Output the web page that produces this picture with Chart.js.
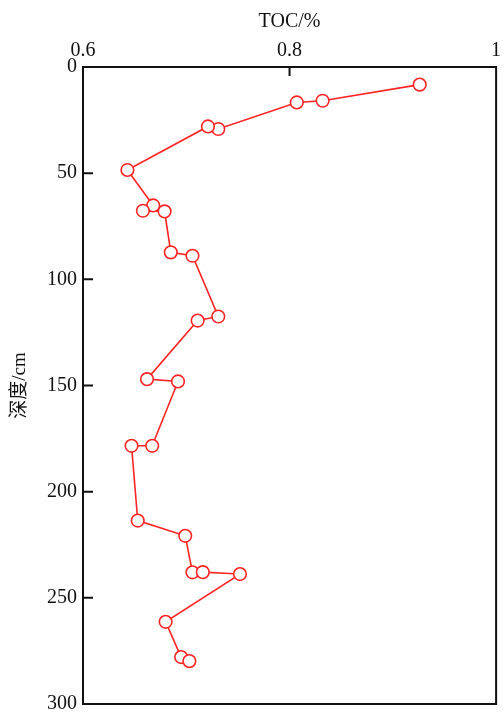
<!DOCTYPE html>
<html>
<head>
<meta charset="utf-8">
<script src="https://cdn.jsdelivr.net/npm/chart.js@4"></script>
<style>
  html, body { margin: 0; padding: 0; background: #fff; }
  #wrap { width: 504px; height: 714px; }
</style>
</head>
<body>
<div id="wrap"><canvas id="chart" width="504" height="714"></canvas></div>
<script>
// TOC (%) frente a profundidad (cm), en el orden en que se une la línea
const tocValues = [0.926, 0.832, 0.807, 0.731, 0.721, 0.643, 0.668, 0.658, 0.679, 0.685, 0.706,
                   0.731, 0.711, 0.662, 0.692, 0.667, 0.647, 0.653, 0.699, 0.706, 0.716, 0.752,
                   0.680, 0.695, 0.703];
const depthValues = [8.3, 15.9, 16.7, 29.2, 28.0, 48.5, 65.2, 67.7, 68.0, 87.3, 88.9,
                     117.5, 119.4, 147.0, 148.1, 178.4, 178.4, 213.6, 220.8, 238.0, 237.9, 238.8,
                     261.3, 277.9, 279.8];
const xTicks = [0.6, 0.8, 1];
const yTicks = [0, 50, 100, 150, 200, 250, 300];

const rojo = '#ff2323';
const fuente = "'Liberation Serif', 'Times New Roman', serif";

// Marco negro y marcas hacia dentro
const marcoPlugin = {
  id: 'marco',
  afterDraw(chart) {
    const { ctx, chartArea: a, scales } = chart;
    ctx.save();
    ctx.strokeStyle = '#111';
    ctx.lineWidth = 2;
    ctx.strokeRect(a.left, a.top, a.right - a.left, a.bottom - a.top);
    ctx.beginPath();
    yTicks.forEach(v => {
      if (v === 0 || v === 300) return;
      const y = scales.y.getPixelForValue(v);
      ctx.moveTo(a.left, y);
      ctx.lineTo(a.left + 10, y);
    });
    xTicks.forEach(v => {
      if (v === 0.6 || v === 1) return;
      const x = scales.x.getPixelForValue(v);
      ctx.moveTo(x, a.top);
      ctx.lineTo(x, a.top + 9);
    });
    ctx.stroke();
    ctx.restore();
  }
};

new Chart(document.getElementById('chart').getContext('2d'), {
  type: 'scatter',
  data: {
    datasets: [{
      data: tocValues.map((v, i) => ({ x: v, y: depthValues[i] })),
      showLine: true,
      borderColor: rojo,
      borderWidth: 1.6,
      pointRadius: 6.3,
      pointBorderWidth: 1.6,
      pointBackgroundColor: '#fff',
      pointBorderColor: rojo,
      tension: 0
    }]
  },
  options: {
    responsive: false,
    animation: false,
    layout: { padding: { left: 0, right: 6, top: 0, bottom: 10 } },
    plugins: {
      legend: { display: false },
      tooltip: { enabled: false }
    },
    scales: {
      x: {
        type: 'linear',
        position: 'top',
        min: 0.6,
        max: 1,
        afterBuildTicks(scale) { scale.ticks = xTicks.map(v => ({ value: v })); },
        afterFit(scale) {
          scale.height = 67;
          scale.paddingLeft = 0;
          scale.paddingRight = 0;
        },
        grid: { display: false, drawTicks: false },
        border: { display: false },
        ticks: {
          padding: 4,
          color: '#111',
          font: { family: fuente, size: 20 },
          callback: v => String(v)
        },
        title: {
          display: true,
          text: 'TOC/%',
          color: '#111',
          font: { family: fuente, size: 20 },
          padding: { top: 10, bottom: 0 }
        }
      },
      y: {
        type: 'linear',
        reverse: true,
        min: 0,
        max: 300,
        afterBuildTicks(scale) { scale.ticks = yTicks.map(v => ({ value: v })); },
        afterFit(scale) {
          scale.width = 83;
          scale.paddingTop = 0;
          scale.paddingBottom = 0;
        },
        grid: { display: false, drawTicks: false },
        border: { display: false },
        ticks: {
          padding: 6,
          color: '#111',
          font: { family: fuente, size: 20 },
          callback: v => String(v)
        },
        title: {
          display: true,
          text: '深度/cm',
          color: '#111',
          font: { family: "'Liberation Serif', 'Noto Sans CJK SC', serif", size: 19 },
          padding: { top: 9, bottom: 0 }
        }
      }
    }
  },
  plugins: [marcoPlugin]
});
</script>
</body>
</html>
